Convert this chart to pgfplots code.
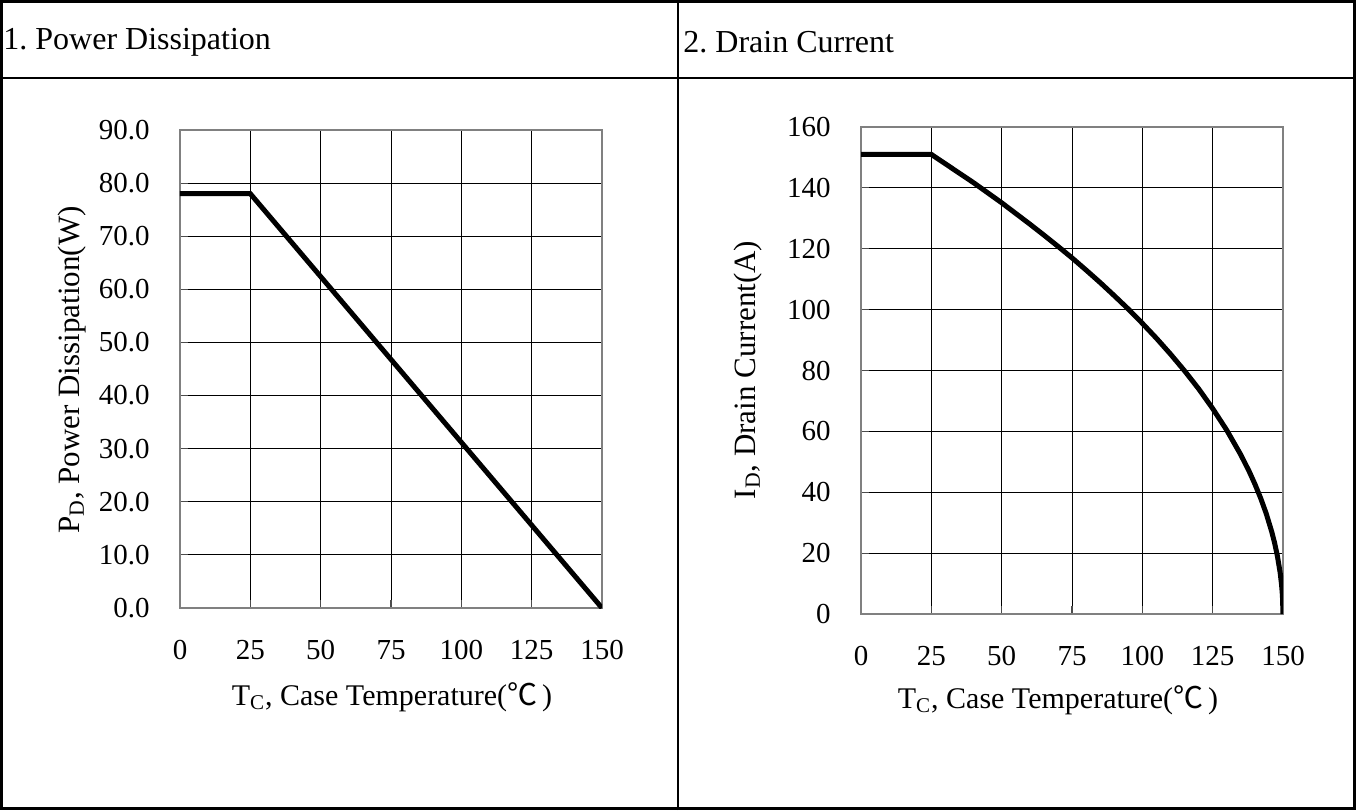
\documentclass[border=0pt]{standalone}
\usepackage{pgfplots}
\pgfplotsset{compat=1.18}
\usepackage{fontspec}
\setmainfont{Liberation Serif}
\newfontfamily\cjk{Noto Sans CJK SC}
\frenchspacing
\begin{document}
\fontsize{15}{18}\selectfont
\begin{tikzpicture}
\useasboundingbox (0,0) rectangle (678pt,405pt);
% table frame
\draw[line width=1.6pt] (0.8pt,0.8pt) rectangle (677.2pt,404.2pt);
\draw[line width=1.3pt] (0,366pt) -- (678pt,366pt);
\draw[line width=1.3pt] (339pt,0) -- (339pt,405pt);
\node[anchor=west,inner sep=0pt,font=\fontsize{16}{19}\selectfont] at (1.5pt,384pt) {1. Power Dissipation};
\node[anchor=west,inner sep=0pt,font=\fontsize{16}{19}\selectfont] at (341.5pt,384pt) {2. Drain Current};

\pgfplotsset{
  mystyle/.style={
    scale only axis,
    anchor=south west,
    xmin=0, xmax=150,
    xtick={0,25,50,75,100,125,150},
    grid=major,
    major grid style={black, line width=0.5pt},
    axis line style={draw=gray, line width=0.9pt},
    tick style={draw=gray!60!black, line width=0.6pt},
    major tick length=4pt,
    tick align=inside,
    xtick pos=bottom, ytick pos=left,
    /pgf/number format/assume math mode=true,
    tick label style={font=\fontsize{14.5}{17}\selectfont},
    yticklabel style={inner sep=0pt, anchor=east, xshift=-15pt},
    xticklabel style={inner sep=0pt, anchor=north, yshift=-16pt},
  }
}

\begin{axis}[mystyle,
  at={(90pt,101pt)}, width=211pt, height=239pt,
  ymin=0, ymax=90, ytick={0,10,...,90},
  yticklabel style={/pgf/number format/.cd, fixed, fixed zerofill, precision=1},
]
\addplot[black, line width=2.5pt, line join=miter] coordinates {(0,78) (25,78) (150,0)};
\end{axis}

\begin{axis}[mystyle,
  at={(430.5pt,98pt)}, width=211pt, height=243.5pt,
  ymin=0, ymax=160, ytick={0,20,...,160},
]
\addplot[black, line width=2.5pt, line join=round] coordinates {
(0,151) (25,151) (30,147.9) (35,144.8) (40,141.7) (45,138.4) (50,135.1)
(55,131.6) (60,128.1) (65,124.5) (70,120.8) (75,117.0) (80,113.0)
(85,108.9) (90,104.6) (95,100.2) (100,95.5) (105,90.6) (110,85.4)
(115,79.9) (120,74.0) (125,67.5) (130,60.4) (135,52.3) (138,46.8)
(140,42.7) (142,38.2) (144,33.1) (146,27.0) (147,23.4) (148,19.1)
(149,13.5) (149.5,9.5) (149.8,6.0) (150,0)};
\end{axis}

% axis labels
\node[rotate=90,font=\fontsize{15.5}{18}\selectfont] at (36pt,220pt) {P\textsubscript{D}, Power Dissipation(W)};
\node[rotate=90,font=\fontsize{15.5}{18}\selectfont] at (374pt,220pt) {I\textsubscript{D}, Drain Current(A)};
\node at (196pt,56.5pt) {T\textsubscript{C}, Case Temperature({\cjk ℃}\,)};
\node at (529pt,55pt) {T\textsubscript{C}, Case Temperature({\cjk ℃}\,)};
\end{tikzpicture}
\end{document}
